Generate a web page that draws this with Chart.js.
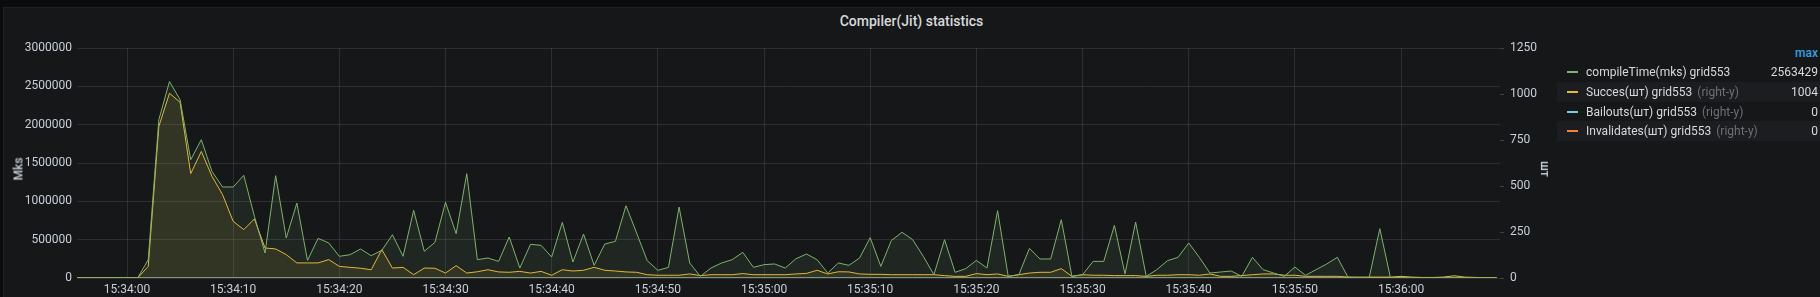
<!DOCTYPE html>
<html>
<head>
<meta charset="utf-8">
<script src="https://cdn.jsdelivr.net/npm/chart.js@4.4.0/dist/chart.umd.min.js"></script>
<style>
  html, body { margin:0; padding:0; background:#0b0c0e; width:1820px; height:297px; overflow:hidden; font-family: Roboto, "Helvetica Neue", Arial, sans-serif; }
  #panel { position:absolute; left:3px; top:7px; width:1817px; height:300px; background:#161719; border-top:1px solid #1f2024; border-left:1px solid #1f2024; box-sizing:border-box; }
  #title { position:absolute; left:3px; width:1817px; top:11px; height:20px; line-height:20px; text-align:center; color:#d8d9da; font-size:14px; font-weight:500; }
  #wrap { position:absolute; left:0; top:0; width:1560px; height:297px; }
  .axt { position:absolute; color:#c7d0d9; font-size:12px; font-weight:500; white-space:nowrap; transform-origin:center center; }
  .lg { position:absolute; font-size:12px; color:#d8d9da; white-space:nowrap; }
  .row { position:absolute; left:1557px; width:263px; height:20px; line-height:20px; }
  .row.alt { background:#1c1d20; }
  .sw { position:absolute; left:10px; top:9px; width:11px; height:2px; }
  .nm { position:absolute; left:29px; top:0; }
  .ry { color:#6e7075; margin-left:5px; }
  .val { position:absolute; right:2px; top:0; text-align:right; }
</style>
</head>
<body>
<div id="panel"></div>
<div id="title">Compiler(Jit) statistics</div>
<div id="wrap"><canvas id="c" width="1560" height="297"></canvas></div>
<div class="axt" id="ytl" style="left:7px;top:162px;transform:rotate(-90deg);">Mks</div>
<div class="axt" id="ytr" style="left:1537px;top:162px;transform:rotate(90deg);">шт</div>
<div id="legend"></div>
<script>
// ---- data ----
const times = [
 '15:33:55','15:33:56','15:33:57','15:33:58','15:33:59',
 '15:34:00','15:34:01','15:34:02','15:34:03','15:34:04','15:34:05','15:34:06','15:34:07','15:34:08','15:34:09',
 '15:34:10','15:34:11','15:34:12','15:34:13','15:34:14','15:34:15','15:34:16','15:34:17','15:34:18','15:34:19',
 '15:34:20','15:34:21','15:34:22','15:34:23','15:34:24','15:34:25','15:34:26','15:34:27','15:34:28','15:34:29',
 '15:34:30','15:34:31','15:34:32','15:34:33','15:34:34','15:34:35','15:34:36','15:34:37','15:34:38','15:34:39',
 '15:34:40','15:34:41','15:34:42','15:34:43','15:34:44','15:34:45','15:34:46','15:34:47','15:34:48','15:34:49',
 '15:34:50','15:34:51','15:34:52','15:34:53','15:34:54','15:34:55','15:34:56','15:34:57','15:34:58','15:34:59',
 '15:35:00','15:35:01','15:35:02','15:35:03','15:35:04','15:35:05','15:35:06','15:35:07','15:35:08','15:35:09',
 '15:35:10','15:35:11','15:35:12','15:35:13','15:35:14','15:35:15','15:35:16','15:35:17','15:35:18','15:35:19',
 '15:35:20','15:35:21','15:35:22','15:35:23','15:35:24','15:35:25','15:35:26','15:35:27','15:35:28','15:35:29',
 '15:35:30','15:35:31','15:35:32','15:35:33','15:35:34','15:35:35','15:35:36','15:35:37','15:35:38','15:35:39',
 '15:35:40','15:35:41','15:35:42','15:35:43','15:35:44','15:35:45','15:35:46','15:35:47','15:35:48','15:35:49',
 '15:35:50','15:35:51','15:35:52','15:35:53','15:35:54','15:35:55','15:35:56','15:35:57','15:35:58','15:35:59',
 '15:36:00','15:36:01','15:36:02','15:36:03','15:36:04','15:36:05','15:36:06','15:36:07','15:36:08','15:36:09'
];

const compileTime = [
 0,0,0,0,0,
 0,0,239000,2065000,2563429,2326000,1543000,1804000,1391000,1187000,
 1187000,1339000,804000,326000,1335000,522000,978000,230000,517000,457000,
 283000,304000,378000,291000,361000,565000,283000,883000,348000,465000,
 987000,578000,1361000,239000,261000,217000,535000,130000,439000,426000,
 274000,726000,209000,574000,165000,443000,478000,943000,587000,226000,
 100000,139000,926000,196000,22000,130000,196000,239000,335000,139000,
 174000,183000,130000,250000,313000,239000,65000,196000,165000,261000,
 526000,152000,491000,596000,500000,283000,43000,500000,74000,122000,
 230000,130000,878000,22000,43000,387000,248000,248000,761000,22000,
 43000,217000,217000,687000,52000,730000,22000,109000,226000,270000,
 457000,270000,65000,78000,91000,22000,270000,109000,65000,22000,
 143000,35000,109000,183000,270000,10000,5000,5000,643000,5000,
 3000,2000,2000,2000,2000,3000,2000,2000,2000,2000
];

const succes = [
 0,0,0,0,0,
 0,0,63,824,1004,955,567,688,553,453,
 308,263,321,163,158,127,82,82,82,100,
 63,58,53,45,154,54,58,18,54,53,
 27,67,27,34,45,33,31,36,27,36,
 15,45,38,42,58,42,38,33,31,18,
 15,15,15,22,13,18,18,18,24,18,
 18,18,18,22,25,42,22,34,33,22,
 20,20,18,18,18,18,18,13,9,9,
 24,18,22,9,18,27,31,31,51,9,
 18,15,15,13,13,13,9,15,15,18,
 18,15,22,9,9,13,18,22,22,15,
 15,9,9,9,9,5,5,5,5,5,
 9,5,3,3,5,12,5,3,2,2
];

const bailouts = [
 0,0,0,0,0, 0,0,0,0,0,0,0,0,0,0, 0,0,0,0,0,0,0,0,0,0, 0,0,0,0,0,0,0,0,0,0,
 0,0,0,0,0,0,0,0,0,0, 0,0,0,0,0,0,0,0,0,0, 0,0,0,0,0,0,0,0,0,0, 0,0,0,0,0,0,0,0,0,0,
 0,0,0,0,0,0,0,0,0,0, 0,0,0,0,0,0,0,0,0,0, 0,0,0,0,0,0,0,0,0,0, 0,0,0,0,0,0,0,0,0,0,
 0,0,0,0,0,0,0,0,0,0, 0,0,0,0,0,0,0,0,0,0
];

const invalidates = [
 0,0,0,0,0, 0,0,0,0,0,0,0,0,0,0, 0,0,0,0,0,0,0,0,0,0, 0,0,0,0,0,0,0,0,0,0,
 0,0,0,0,0,0,0,0,0,0, 0,0,0,0,0,0,0,0,0,0, 0,0,0,0,0,0,0,0,0,0, 0,0,0,0,0,0,0,0,0,0,
 0,0,0,0,0,0,0,0,0,0, 0,0,0,0,0,0,0,0,0,0, 0,0,0,0,0,0,0,0,0,0, 0,0,0,0,0,0,0,0,0,0,
 0,0,0,0,0,0,0,0,0,0, 0,0,0,0,0,0,0,0,0,0
];

const seriesNames = ['compileTime(mks) grid553', 'Succes(шт) grid553', 'Bailouts(шт) grid553', 'Invalidates(шт) grid553'];
const xTickLabels = ['15:34:00','15:34:10','15:34:20','15:34:30','15:34:40','15:34:50','15:35:00','15:35:10','15:35:20','15:35:30','15:35:40','15:35:50','15:36:00'];
const leftTicks = [0, 500000, 1000000, 1500000, 2000000, 2500000, 3000000];
const rightTicks = [0, 250, 500, 750, 1000, 1250];
const rangeStart = '15:33:55.29';
const rangeEnd = '15:36:09.32';

// ---- helpers ----
const colors = ['#7EB26D', '#EAB839', '#6ED0E0', '#EF843C'];
function rgba(hex, a) {
  const n = parseInt(hex.slice(1), 16);
  return `rgba(${(n>>16)&255},${(n>>8)&255},${n&255},${a})`;
}
const ORIGIN = '15:34:00';
function secs(s) { const p = s.split(':'); return (+p[0])*3600 + (+p[1])*60 + parseFloat(p[2]); }
const base = secs(ORIGIN);
const xs = times.map(t => secs(t) - base);
const pts = arr => arr.map((v, i) => ({x: xs[i], y: v}));
const tickVals = xTickLabels.map(t => secs(t) - base);

const allSeries = [compileTime, succes, bailouts, invalidates];
const axes = ['yL', 'yR', 'yR', 'yR'];
const datasets = allSeries.map((arr, i) => ({
  label: seriesNames[i],
  data: pts(arr),
  yAxisID: axes[i],
  borderColor: colors[i],
  backgroundColor: rgba(colors[i], 0.1),
  borderWidth: 1,
  pointRadius: 0,
  tension: 0,
  fill: 'origin'
}));

const tickFont = { family: 'Roboto, "Helvetica Neue", Arial, sans-serif', size: 12 };
const tickColor = '#c7d0d9';
const gridColor = 'rgba(255,255,255,0.10)';

new Chart(document.getElementById('c'), {
  type: 'line',
  data: { datasets },
  options: {
    responsive: false,
    animation: false,
    devicePixelRatio: 1,
    layout: { padding: { top: 48, left: 0, right: 0, bottom: 0 } },
    plugins: { legend: { display: false }, title: { display: false }, tooltip: { enabled: false } },
    scales: {
      x: {
        type: 'linear',
        min: secs(rangeStart) - base,
        max: secs(rangeEnd) - base,
        afterBuildTicks: s => { s.ticks = tickVals.map(v => ({ value: v })); },
        afterFit: s => { s.height = 19; },
        ticks: { font: tickFont, color: tickColor, padding: 5, maxRotation: 0, autoSkip: false,
                 callback: v => { const i = tickVals.indexOf(v); return i >= 0 ? xTickLabels[i] : ''; } },
        grid: { color: gridColor, drawTicks: false },
        border: { display: false }
      },
      yL: {
        position: 'left',
        min: 0, max: 3000000,
        afterBuildTicks: s => { s.ticks = leftTicks.map(v => ({ value: v })); },
        afterFit: s => { s.width = 77; },
        ticks: { font: tickFont, color: tickColor, padding: 5, callback: v => String(v) },
        grid: { color: gridColor, drawTicks: false },
        border: { display: false }
      },
      yR: {
        position: 'right',
        min: 0, max: 1250,
        afterBuildTicks: s => { s.ticks = rightTicks.map(v => ({ value: v })); },
        afterFit: s => { s.width = 60; },
        ticks: { font: tickFont, color: tickColor, padding: 6, callback: v => String(v) },
        grid: { drawOnChartArea: false, drawTicks: true, tickLength: 4, tickColor: 'rgba(255,255,255,0.18)', tickWidth: 1 },
        border: { display: false }
      }
    }
  }
});

// ---- legend (table, max column) ----
const lg = document.getElementById('legend');
const hdr = document.createElement('div');
hdr.className = 'lg';
hdr.style.cssText = 'right:2px;top:45px;height:16px;line-height:16px;color:#33a2e5;font-weight:500;';
hdr.textContent = 'max';
lg.appendChild(hdr);
const rowTops = [62, 82, 101.5, 121];
allSeries.forEach((arr, i) => {
  const r = document.createElement('div');
  r.className = 'row lg' + (i % 2 === 1 ? ' alt' : '');
  r.style.top = rowTops[i] + 'px';
  const sw = document.createElement('div'); sw.className = 'sw'; sw.style.background = colors[i]; r.appendChild(sw);
  const nm = document.createElement('div'); nm.className = 'nm'; nm.textContent = seriesNames[i];
  if (axes[i] === 'yR') { const s = document.createElement('span'); s.className = 'ry'; s.textContent = '(right-y)'; nm.appendChild(s); }
  r.appendChild(nm);
  const v = document.createElement('div'); v.className = 'val'; v.textContent = String(Math.max(...arr)); r.appendChild(v);
  lg.appendChild(r);
});
</script>
</body>
</html>
